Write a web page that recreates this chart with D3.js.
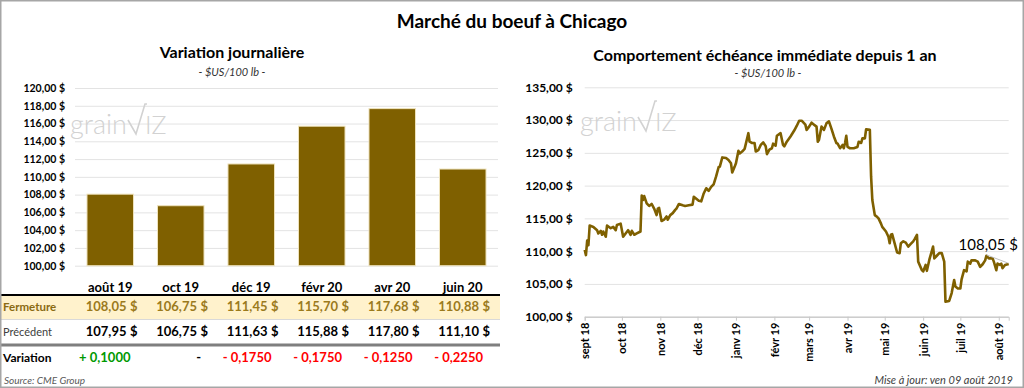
<!DOCTYPE html>
<html>
<head>
<meta charset="utf-8" />
<title>Marché du boeuf à Chicago</title>
<script src="https://d3js.org/d3.v7.min.js"></script>
<style>
  body { margin: 0; background: #fff; }
  svg { display: block; font-family: "Lato", "Noto Sans", sans-serif; }
</style>
</head>
<body>
<div id="chart"></div>
<script>
// --- data ---
var contracts = ["août 19", "oct 19", "déc 19", "févr 20", "avr 20", "juin 20"];
var closes = [108.05, 106.75, 111.45, 115.70, 117.68, 110.88];
var previous = [107.95, 106.75, 111.63, 115.88, 117.80, 111.10];
var variations = [0.1, 0, -0.175, -0.175, -0.125, -0.225];
var barTicks = [100, 102, 104, 106, 108, 110, 112, 114, 116, 118, 120];

var lineTicks = [100, 105, 110, 115, 120, 125, 130, 135];
var monthLabels = ["sept 18", "oct 18", "nov 18", "déc 18", "janv 19", "févr 19", "mars 19",
  "avr 19", "mai 19", "juin 19", "juil 19", "août 19"];
var lastLabel = "108,05 $";

var dates = [
  "2018-09-01","2018-09-02","2018-09-03","2018-09-04","2018-09-05","2018-09-08","2018-09-11","2018-09-12",
  "2018-09-14","2018-09-15","2018-09-16","2018-09-18","2018-09-19","2018-09-22","2018-09-24","2018-09-26",
  "2018-09-27","2018-09-30","2018-10-02","2018-10-04","2018-10-06","2018-10-08","2018-10-09","2018-10-11",
  "2018-10-13","2018-10-16","2018-10-17","2018-10-18","2018-10-19","2018-10-21","2018-10-23","2018-10-25",
  "2018-10-27","2018-10-29","2018-10-30","2018-10-31","2018-11-02","2018-11-04","2018-11-06","2018-11-07",
  "2018-11-09","2018-11-11","2018-11-13","2018-11-14","2018-11-16","2018-11-19","2018-11-21","2018-11-24",
  "2018-11-27","2018-11-28","2018-11-30","2018-12-02","2018-12-04","2018-12-06","2018-12-08","2018-12-10",
  "2018-12-12","2018-12-14","2018-12-16","2018-12-18","2018-12-19","2018-12-21","2018-12-24","2018-12-26",
  "2018-12-28","2018-12-29","2018-12-31","2019-01-01","2019-01-03","2019-01-04","2019-01-06","2019-01-08",
  "2019-01-11","2019-01-12","2019-01-14","2019-01-16","2019-01-17","2019-01-19","2019-01-21","2019-01-23",
  "2019-01-25","2019-01-26","2019-01-28","2019-01-30","2019-01-31","2019-02-02","2019-02-03","2019-02-06",
  "2019-02-08","2019-02-09","2019-02-11","2019-02-14","2019-02-17","2019-02-19","2019-02-21","2019-02-23",
  "2019-02-26","2019-02-27","2019-03-01","2019-03-03","2019-03-05","2019-03-07","2019-03-08","2019-03-09",
  "2019-03-11","2019-03-13","2019-03-15","2019-03-17","2019-03-19","2019-03-21","2019-03-23","2019-03-24",
  "2019-03-26","2019-03-28","2019-03-29","2019-03-30","2019-03-31","2019-04-01","2019-04-03","2019-04-06",
  "2019-04-09","2019-04-10","2019-04-12","2019-04-13","2019-04-15","2019-04-16","2019-04-19","2019-04-20",
  "2019-04-21","2019-04-23","2019-04-25","2019-04-26","2019-04-28","2019-04-29","2019-05-02","2019-05-04",
  "2019-05-05","2019-05-06","2019-05-07","2019-05-09","2019-05-11","2019-05-13","2019-05-14","2019-05-16",
  "2019-05-18","2019-05-20","2019-05-22","2019-05-24","2019-05-25","2019-05-27","2019-05-28","2019-05-31",
  "2019-06-01","2019-06-03","2019-06-04","2019-06-06","2019-06-09","2019-06-10","2019-06-12","2019-06-14",
  "2019-06-16","2019-06-18","2019-06-19","2019-06-22","2019-06-24","2019-06-26","2019-06-27","2019-06-29",
  "2019-07-01","2019-07-02","2019-07-04","2019-07-06","2019-07-07","2019-07-09","2019-07-10","2019-07-13",
  "2019-07-15","2019-07-17","2019-07-19","2019-07-21","2019-07-22","2019-07-24","2019-07-27","2019-07-28",
  "2019-07-30","2019-07-31","2019-08-02","2019-08-03","2019-08-04","2019-08-06","2019-08-09"
];
var prices = [
  110.2,109.4,111.6,110.9,113.9,113.7,113.2,112.7,
  113.1,112.5,113.0,112.2,113.9,113.5,113.7,113.2,
  114.0,114.2,112.2,112.7,113.2,112.5,113.1,112.5,
  112.7,113.0,118.5,117.8,118.4,117.3,116.9,117.2,
  116.5,115.5,116.5,116.6,114.6,114.8,115.3,114.8,
  115.5,115.8,116.3,116.5,117.2,117.0,116.9,117.0,
  117.1,118.3,118.0,117.7,117.6,118.8,119.6,119.2,
  119.8,120.2,121.4,122.8,122.9,124.3,124.2,123.9,
  123.4,122.0,122.9,123.4,125.3,124.9,125.2,125.6,
  128.0,126.7,126.5,126.5,125.2,125.4,126.2,126.6,
  126.0,124.8,125.5,125.7,126.4,126.1,127.6,128.0,
  126.2,126.0,126.7,127.5,128.4,129.1,129.9,129.9,
  129.3,128.5,129.0,129.6,129.3,129.0,126.7,127.0,
  129.0,128.5,129.5,129.8,128.7,127.5,126.5,126.4,
  125.7,126.2,125.7,126.5,127.6,125.9,125.7,125.7,
  125.9,126.7,126.5,127.2,127.2,128.6,128.5,121.4,
  117.8,115.5,115.2,115.0,114.2,113.7,113.0,112.2,
  111.2,112.5,112.6,111.2,109.8,109.7,111.2,111.5,
  111.3,110.7,111.1,111.5,111.8,112.5,108.4,107.1,
  106.9,107.9,107.0,108.7,110.7,108.9,109.3,109.7,
  109.7,108.4,102.3,102.4,103.6,105.6,104.6,104.3,
  104.3,105.7,107.1,106.9,108.4,108.1,108.6,108.6,
  108.4,107.6,108.0,108.6,109.3,108.9,108.9,108.4,
  107.1,108.1,107.9,108.1,107.4,107.9,108.05
];

// --- setup ---
var W = 1024, H = 388;
var gold = "#7F6000";
var fr = d3.formatLocale({ decimal: ",", thousands: " ", grouping: [3], currency: ["", " $"] });
var fmtMoney = fr.format("$.2f");
var fmtNum = fr.format(".2f");
var fmtVar = fr.format(".4f");

var svg = d3.select("#chart").append("svg")
  .attr("width", W).attr("height", H);

svg.append("rect").attr("width", W).attr("height", H).attr("fill", "#fff");

svg.append("text")
  .attr("x", 512).attr("y", 28)
  .attr("text-anchor", "middle")
  .attr("font-size", 19).attr("font-weight", "bold")
  .text("Marché du boeuf à Chicago");

// grainwiz logo, drawn light behind the marks
function watermark(x, y) {
  var g = svg.append("g").attr("transform", "translate(" + x + "," + y + ")").attr("fill", "#d2d2d2");
  var t = g.append("text").attr("font-size", 27).attr("font-weight", 300).text("grain");
  var w = t.node().getComputedTextLength();
  g.append("path")
    .attr("d", "M" + (w + 1) + ",-14 L" + (w + 9) + ",0 L" + (w + 18) + ",-30 L" + (w + 20) + ",-30")
    .attr("fill", "none").attr("stroke", "#d2d2d2").attr("stroke-width", 1.6);
  g.append("text").attr("x", w + 18).attr("font-size", 25).attr("font-weight", 300).text("IZ");
}

// --- left: bar chart ---
var xb = d3.scaleBand().domain(contracts).range([75, 498]).paddingInner(0.34).paddingOuter(0.17);
var yb = d3.scaleLinear().domain([100, 120]).range([265.7, 88]);

svg.append("text").attr("x", 232).attr("y", 58).attr("text-anchor", "middle")
  .attr("font-size", 16).attr("font-weight", "bold").text("Variation journalière");
svg.append("text").attr("x", 232).attr("y", 76).attr("text-anchor", "middle")
  .attr("font-size", 11).attr("font-style", "italic").attr("fill", "#333").text("- $US/100 lb -");

var yAxisL = svg.append("g").attr("transform", "translate(75,0)")
  .call(d3.axisLeft(yb).tickValues(barTicks).tickSize(-423).tickPadding(10).tickFormat(fmtMoney));
yAxisL.select(".domain").remove();
yAxisL.selectAll(".tick line").attr("stroke", "#e3e3e3");
yAxisL.selectAll(".tick text").attr("font-size", 10.5).attr("font-weight", "bold").attr("fill", "#000")
  .attr("font-family", "Lato");

watermark(70, 134);

svg.append("g").selectAll("rect").data(contracts).join("rect")
  .attr("x", function (d) { return xb(d); })
  .attr("y", function (d, i) { return yb(closes[i]); })
  .attr("width", xb.bandwidth())
  .attr("height", function (d, i) { return yb(100) - yb(closes[i]); })
  .attr("fill", gold).attr("stroke", "#efe3bd").attr("stroke-width", 1);

svg.append("g").selectAll("text").data(contracts).join("text")
  .attr("x", function (d) { return xb(d) + xb.bandwidth() / 2; })
  .attr("y", 292).attr("text-anchor", "middle")
  .attr("font-size", 13).attr("font-weight", "bold")
  .text(function (d) { return d; });

// table
svg.append("rect").attr("x", 1).attr("y", 295).attr("width", 499).attr("height", 24).attr("fill", "#FFF2CC");
svg.append("line").attr("x1", 1).attr("x2", 500).attr("y1", 295).attr("y2", 295).attr("stroke", "#000").attr("stroke-width", 2);
svg.append("line").attr("x1", 1).attr("x2", 500).attr("y1", 319.5).attr("y2", 319.5).attr("stroke", "#d9d9d9").attr("stroke-width", 1);
svg.append("line").attr("x1", 1).attr("x2", 500).attr("y1", 345).attr("y2", 345).attr("stroke", "#7f7f7f").attr("stroke-width", 3);

svg.append("text").attr("x", 3).attr("y", 311).attr("font-size", 11.5).attr("font-weight", "bold")
  .attr("fill", "#8a6a12").text("Fermeture");
svg.append("text").attr("x", 3).attr("y", 336).attr("font-size", 11).attr("fill", "#404040").text("Précédent");
svg.append("text").attr("x", 3).attr("y", 362).attr("font-size", 12).attr("font-weight", "bold").text("Variation");

function valueRow(arr, y, color) {
  var g = svg.append("g").attr("font-size", 13).attr("font-weight", "bold").attr("fill", color);
  g.selectAll("text.num").data(contracts).join("text").attr("class", "num")
    .attr("x", function (d) { return xb(d) + xb.bandwidth() - 7; })
    .attr("y", y).attr("text-anchor", "end")
    .text(function (d, i) { return fmtNum(arr[i]); });
  g.selectAll("text.cur").data(contracts).join("text").attr("class", "cur")
    .attr("x", function (d) { return xb(d) + xb.bandwidth() + 4; })
    .attr("y", y).attr("text-anchor", "end")
    .text("$");
}
valueRow(closes, 311, "#9b7a1c");
valueRow(previous, 336, "#000");

svg.append("g").attr("font-size", 13).attr("font-weight", "bold")
  .selectAll("text").data(contracts).join("text")
  .attr("x", function (d) { return xb(d) + xb.bandwidth() - 3; })
  .attr("y", 362).attr("text-anchor", "end")
  .attr("fill", function (d, i) { return variations[i] > 0 ? "#009900" : variations[i] < 0 ? "#ff0000" : "#000"; })
  .text(function (d, i) {
    var v = variations[i];
    if (v === 0) return "-";
    return (v > 0 ? "+ " : "- ") + fmtVar(Math.abs(v));
  });

svg.append("text").attr("x", 4).attr("y", 384).attr("font-size", 10).attr("font-style", "italic")
  .attr("fill", "#595959").text("Source: CME Group");

// --- right: line chart ---
var parse = d3.timeParse("%Y-%m-%d");
var series = dates.map(function (d, i) { return { date: parse(d), value: prices[i] }; });
var xl = d3.scaleTime().domain([parse("2018-09-01"), parse("2019-08-09")]).range([584.7, 1008.7]);
var yl = d3.scaleLinear().domain([100, 135]).range([316.7, 87.3]);

svg.append("text").attr("x", 765).attr("y", 61).attr("text-anchor", "middle")
  .attr("font-size", 16).attr("font-weight", "bold").text("Comportement échéance immédiate depuis 1 an");
svg.append("text").attr("x", 768).attr("y", 77).attr("text-anchor", "middle")
  .attr("font-size", 11).attr("font-style", "italic").attr("fill", "#333").text("- $US/100 lb -");

var yAxisR = svg.append("g").attr("transform", "translate(584.7,0)")
  .call(d3.axisLeft(yl).tickValues(lineTicks).tickSize(-424).tickPadding(12).tickFormat(fmtMoney));
yAxisR.select(".domain").remove();
yAxisR.selectAll(".tick line").attr("stroke", "#e3e3e3");
yAxisR.selectAll(".tick").filter(function (d) { return d === 100; }).select("line").attr("stroke", "#c8c8c8");
yAxisR.selectAll(".tick text").attr("font-size", 12).attr("font-weight", "bold").attr("fill", "#000")
  .attr("font-family", "Lato");

var months = d3.timeMonth.range(parse("2018-09-01"), parse("2019-08-02"));
var xAxisR = svg.append("g").attr("transform", "translate(0," + yl(100) + ")")
  .call(d3.axisBottom(xl).tickValues(months).tickSize(4).tickFormat(function (d, i) { return monthLabels[i]; }));
xAxisR.select(".domain").attr("stroke", "#c8c8c8");
xAxisR.selectAll(".tick line").attr("stroke", "#c8c8c8");
xAxisR.selectAll(".tick text")
  .attr("font-size", 11).attr("font-weight", "bold").attr("fill", "#000").attr("font-family", "Lato")
  .attr("text-anchor", "end").attr("transform", "rotate(-90)")
  .attr("x", -6).attr("y", 0).attr("dy", "0.35em");

watermark(580, 131);

svg.append("path").datum(series)
  .attr("fill", "none").attr("stroke", gold).attr("stroke-width", 2.6).attr("stroke-linejoin", "round")
  .attr("d", d3.line().x(function (d) { return xl(d.date); }).y(function (d) { return yl(d.value); }));

var last = series[series.length - 1];
svg.append("line")
  .attr("x1", xl(last.date) - 22).attr("y1", yl(last.value) - 9)
  .attr("x2", xl(last.date) - 1).attr("y2", yl(last.value) - 1)
  .attr("stroke", "#bfbfbf").attr("stroke-width", 1);
svg.append("text").attr("x", 1018).attr("y", yl(last.value) - 14).attr("text-anchor", "end")
  .attr("font-size", 15).text(lastLabel);

svg.append("text").attr("x", 1013).attr("y", 384).attr("text-anchor", "end")
  .attr("font-size", 11).attr("font-style", "italic").attr("fill", "#404040").text("Mise à jour: ven 09 août 2019");

// outer frame
svg.append("rect").attr("x", 0.75).attr("y", 0.75).attr("width", W - 1.5).attr("height", H - 1.5)
  .attr("fill", "none").attr("stroke", "#a6a6a6").attr("stroke-width", 1.5);
</script>
</body>
</html>
